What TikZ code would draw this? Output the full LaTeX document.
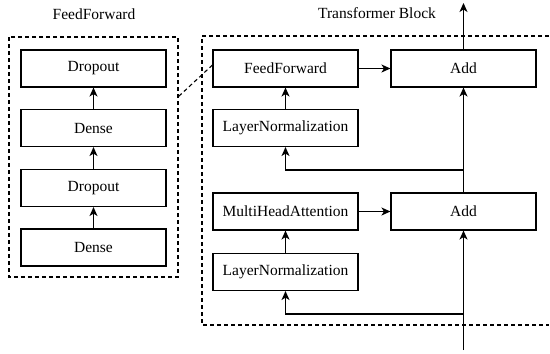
\documentclass[tikz,border=0pt]{standalone}
\usepackage{fontspec}
\setmainfont{Liberation Serif}
\usetikzlibrary{arrows.meta}
\begin{document}
\begin{tikzpicture}[x=1pt,y=-1pt,line width=1.1pt,
		layer/.style={draw,minimum width=145pt,minimum height=37pt,inner sep=0pt},
		frame/.style={dash pattern=on 4pt off 3pt},
		flow/.style={-{Stealth[length=9pt,width=8pt,inset=2.5pt]}},
		font=\fontsize{15.5}{18}\selectfont]
		\useasboundingbox(0,0)rectangle(550,354);

		% FeedForward detail
		\node(fftitle)at(94,14){FeedForward};
		\node[layer](drop1)at(93.5,68.5){Dropout};
		\node[layer](dense1)at(93.5,128){Dense};
		\node[layer](drop2)at(93.5,188){Dropout};
		\node[layer](dense2)at(93.5,247.5){Dense};
		\draw[frame](9,37)rectangle(178,277);
		\begin{scope}[flow]
			\draw(dense2)--(drop2);
			\draw(drop2)--(dense1);
			\draw(dense1)--(drop1);
		\end{scope}

		% Transformer block
		\node(tbtitle)at(377,13){Transformer Block};
		\node[layer](ff)at(285.5,68.5){FeedForward};
		\node[layer](ln1)at(285.5,128){LayerNormalization};
		\node[layer](mha)at(285.5,211.5){MultiHeadAttention};
		\node[layer](ln2)at(285.5,272){LayerNormalization};
		\node[layer](add1)at(463.5,68.5){Add};
		\node[layer](add2)at(463.5,211.5){Add};
		\draw[frame](549,36)--(202,36)--(202,325)--(549,325);

		\coordinate(in)at(463.5,350);
		\coordinate(split2)at(463.5,314);
		\coordinate(split1)at(463.5,170);
		\coordinate(out)at(463.5,3);
		\coordinate(hook)at(178,97);

		\begin{scope}[flow]
			\draw(in)--(add2);
			\draw(split2)-|(ln2);
			\draw(ln2)--(mha);
			\draw(mha)--(add2);
			\draw(add2)--(add1);
			\draw(split1)-|(ln1);
			\draw(ln1)--(ff);
			\draw(ff)--(add1);
			\draw(add1)--(out);
		\end{scope}
		\draw[frame]([yshift=3.5pt]ff.west)--(hook);
	\end{tikzpicture}
\end{document}
